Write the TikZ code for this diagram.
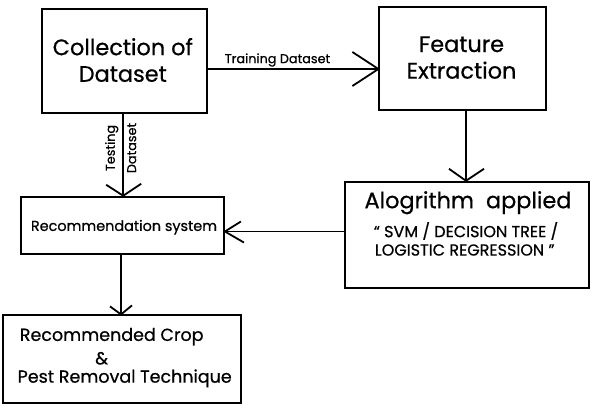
\documentclass[tikz,border=0pt]{standalone}
\usepackage{fontspec}
\setmainfont{Poppins}[FakeBold=0.6]
\tikzset{
  box/.style={draw=black, line width=1.8pt, rectangle, inner sep=0pt},
  arr/.style={draw=black, line width=1.8pt, line join=miter},
  big/.style={font=\fontsize{22.4}{26.6}\selectfont, align=center, inner sep=0pt},
  mid/.style={font=\fontsize{17.5}{20}\selectfont, inner sep=0pt},
  caps/.style={font=\fontsize{16}{19}\selectfont, inner sep=0pt},
  small/.style={font=\fontsize{12.8}{15}\selectfont, inner sep=0pt},
}
\begin{document}
\begin{tikzpicture}[x=1pt,y=-1pt]
\useasboundingbox[fill=white] (0,0) rectangle (592,410);
% boxes
\node[box, minimum width=165pt, minimum height=103.4pt] (coll) at (124.2,61) {};
\node[box, minimum width=166.4pt, minimum height=103.3pt] (feat) at (462.5,58.3) {};
\node[box, minimum width=244.3pt, minimum height=106.6pt] (algo) at (467.2,235) {};
\node[box, minimum width=203pt, minimum height=57.3pt] (rec) at (122.5,225.3) {};
\node[box, minimum width=238.3pt, minimum height=88pt] (res) at (121.9,359.3) {};
% texts
\node[big] (t1) at (122.8,60) {Collection of\\Dataset};
\node[big] (t2) at (461.5,57.6) {Feature\\Extraction};
\node[big] (t3) at (468,202.7) {Alogrithm\ \ applied};
\node[caps] (t4) at (466,231) {“ SVM / DECISION TREE /};
\node[caps] (t5) at (464.7,250) {LOGISTIC REGRESSION ”};
\node[mid, font=\fontsize{14.4}{17}\selectfont] (t6) at (124,227.3) {Recommendation system};
\node[mid] (t7) at (111.7,336.7) {Recommended Crop};
\node[mid] (t8) at (101.7,358.3) {\&};
\node[mid] (t9) at (124.7,378.3) {Pest Removal Technique};
\node[small] (l1) at (277.5,60) {Training Dataset};
\node[small, rotate=90] (l2) at (111.7,148) {Testing};
\node[small, rotate=90] (l3) at (131.7,148) {Dataset};
% arrow tips
\coordinate (p1) at ([yshift=-8pt]coll.east -| feat.west);
\coordinate (p2) at ([xshift=-1pt]coll.south |- rec.north);
\coordinate (p3) at ([xshift=3.5pt]feat.south |- algo.north);
\coordinate (p4) at ([yshift=3.5pt]algo.west -| rec.east);
\coordinate (p5) at ([xshift=-1.5pt]rec.south |- res.north);
% connectors
\draw[arr] ([yshift=-8pt]coll.east) -- (p1);
\draw[arr] ([shift={(-26,-17)}]p1) -- (p1) -- ([shift={(-26,17)}]p1);
\draw[arr] ([xshift=-1pt]coll.south) -- (p2);
\draw[arr] ([shift={(-17,-11)}]p2) -- (p2) -- ([shift={(18,-12)}]p2);
\draw[arr] ([xshift=3.5pt]feat.south) -- (p3);
\draw[arr] ([shift={(-17,-12)}]p3) -- (p3) -- ([shift={(18,-12)}]p3);
\draw[arr] ([yshift=3.5pt]algo.west) -- (p4);
\draw[arr] ([shift={(16,-10)}]p4) -- (p4) -- ([shift={(19,11)}]p4);
\draw[arr] ([xshift=-1.5pt]rec.south) -- (p5);
\draw[arr] ([shift={(-11,-8)}]p5) -- (p5) -- ([shift={(11,-9)}]p5);
\end{tikzpicture}
\end{document}
